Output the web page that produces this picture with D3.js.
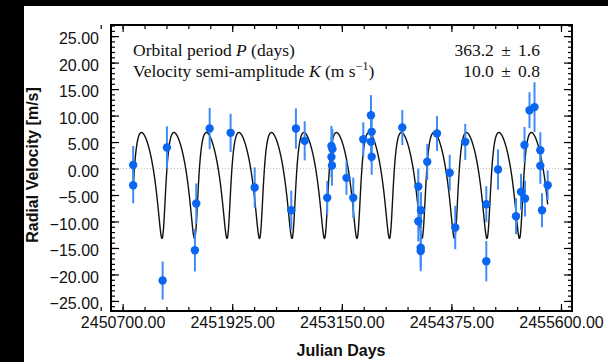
<!DOCTYPE html>
<html>
<head>
<meta charset="utf-8">
<script src="https://cdn.jsdelivr.net/npm/d3@7"></script>
<style>
  html, body { margin: 0; padding: 0; background: #000; }
  svg { display: block; }
</style>
</head>
<body>
<div id="chart"></div>
<script>
var jd = [2450818, 2450818, 2451147, 2451195, 2451508, 2451523, 2451673, 2451907,
  2452176, 2452585, 2452637, 2452735, 2452987, 2453034, 2453045, 2453034, 2453040,
  2453202, 2453278, 2453390, 2453476, 2453484, 2453476, 2453484, 2453826, 2454005,
  2454035, 2454005, 2454032, 2454032, 2454105, 2454214, 2454356, 2454418, 2454530,
  2454765, 2454765, 2454896, 2455097, 2455153, 2455198, 2455192, 2455248, 2455304,
  2455369, 2455369, 2455388, 2455451];
var rv = [0.66, -3.15, -21.15, 3.97, -15.43, -6.61, 7.55, 6.74,
  -3.59, -7.87, 7.55, 5.23, -5.53, 4.25, 3.68, 2.17, 0.57,
  -1.76, -5.53, 5.53, 10.06, 6.93, 5.04, 2.21, 7.74, -3.40,
  -7.87, -9.95, -14.97, -15.58, 1.27, 6.61, -0.81, -11.14, 5.04,
  -6.74, -17.5, -0.19, -9.0, -4.4, -5.66, 4.44, 11.0, 11.6,
  3.46, 0.51, -7.87, -3.15];
var rvErr = [3.6, 3.4, 3.6, 4.0, 4.0, 3.8, 3.9, 3.6,
  3.8, 3.7, 3.8, 3.7, 3.2, 3.8, 3.8, 3.8, 3.8,
  3.2, 3.8, 3.2, 3.8, 3.8, 3.8, 3.4, 3.3, 3.4,
  3.4, 3.8, 3.8, 3.8, 3.4, 3.3, 3.4, 4.1, 3.4,
  3.4, 3.8, 3.8, 3.4, 3.4, 3.4, 3.4, 3.4, 4.7,
  3.4, 3.4, 3.2, 2.8];

// Keplerian fit (P and K as printed; e, omega, Tp, gamma estimated from the curve)
var P = 363.2, K = 10.0, ECC = 0.35, OMEGA = 215, TP = 2451156.5, GAMMA = -0.33;
var legendRows = [["Orbital period ", "P", " (days)", null, "363.2 \u00b1 1.6"],
                  ["Velocity semi-amplitude ", "K", " (m s", "\u22121", "10.0 \u00b1 0.8"]];

var xTicks = [2450700, 2451925, 2453150, 2454375, 2455600];
var yTicks = [-25, -20, -15, -10, -5, 0, 5, 10, 15, 20, 25];

var W = 608, H = 362;
var L = 111, T = 25, R = 572, B = 311;

var svg = d3.select("#chart").append("svg").attr("width", W).attr("height", H);
svg.append("rect").attr("x", 24).attr("y", 6).attr("width", W - 24).attr("height", H - 6).attr("fill", "#fff");

var x = d3.scaleLinear().domain([2450570, 2455723]).range([L, R]);
var y = d3.scaleLinear().domain([-26.9, 27.1]).range([B, T]);

function rvModel(t) {
  var M = 2 * Math.PI * (t - TP) / P;
  var E = M;
  for (var k = 0; k < 30; k++) E = E - (E - ECC * Math.sin(E) - M) / (1 - ECC * Math.cos(E));
  var nu = 2 * Math.atan2(Math.sqrt(1 + ECC) * Math.sin(E / 2), Math.sqrt(1 - ECC) * Math.cos(E / 2));
  var w = OMEGA * Math.PI / 180;
  return K * (Math.cos(nu + w) + ECC * Math.cos(w)) + GAMMA;
}

// zero line
svg.append("line").attr("x1", L).attr("x2", R).attr("y1", y(0)).attr("y2", y(0))
  .attr("stroke", "#c4c4c4").attr("stroke-width", 1).attr("stroke-dasharray", "1,2");

// model curve
var t0 = d3.min(jd), t1 = d3.max(jd);
var curve = d3.range(t0, t1 + 0.5, 0.5).map(function (t) { return [t, rvModel(t)]; });
svg.append("path").datum(curve)
  .attr("d", d3.line().x(function (d) { return x(d[0]); }).y(function (d) { return y(d[1]); }))
  .attr("fill", "none").attr("stroke", "#111").attr("stroke-width", 1.4);

// error bars + points
var pts = jd.map(function (t, i) { return { t: t, v: rv[i], e: rvErr[i] }; });
svg.append("g").selectAll("line").data(pts).join("line")
  .attr("x1", function (d) { return x(d.t); }).attr("x2", function (d) { return x(d.t); })
  .attr("y1", function (d) { return y(d.v - d.e); }).attr("y2", function (d) { return y(d.v + d.e); })
  .attr("stroke", "#3d8df5").attr("stroke-width", 2);
svg.append("g").selectAll("circle").data(pts).join("circle")
  .attr("cx", function (d) { return x(d.t); }).attr("cy", function (d) { return y(d.v); })
  .attr("r", 4.2).attr("fill", "#0a66f0");

// axes, ticks inside the frame
var fmt = d3.format(".2f");
var font = "'Liberation Sans', Arial, Helvetica, sans-serif";
function styleAxis(g) {
  g.select(".domain").remove();
  g.selectAll(".tick line").attr("stroke", "#000").attr("stroke-width", 1.2);
  g.selectAll("text").attr("fill", "#111").style("font-family", font).style("font-size", "16px");
}
svg.append("g").attr("transform", "translate(" + L + ",0)")
  .call(d3.axisLeft(y).tickValues(yTicks).tickFormat(fmt).tickSize(-8).tickPadding(12)).call(styleAxis)
  .selectAll("text").attr("dy", "0.48em");
svg.append("g").attr("transform", "translate(" + L + ",0)")
  .call(d3.axisLeft(y).tickValues(d3.range(-26, 28, 1)).tickFormat("").tickSize(-4)).call(styleAxis);
svg.append("g").attr("transform", "translate(" + R + ",0)")
  .call(d3.axisRight(y).tickValues(yTicks).tickFormat("").tickSize(-8)).call(styleAxis);
svg.append("g").attr("transform", "translate(" + R + ",0)")
  .call(d3.axisRight(y).tickValues(d3.range(-26, 28, 1)).tickFormat("").tickSize(-4)).call(styleAxis);

var xMinor = d3.range(2450700 - 245, 2455723, 245);
svg.append("g").attr("transform", "translate(0," + B + ")")
  .call(d3.axisBottom(x).tickValues(xTicks).tickFormat(fmt).tickSize(-7).tickPadding(6)).call(styleAxis);
svg.append("g").attr("transform", "translate(0," + B + ")")
  .call(d3.axisBottom(x).tickValues(xMinor).tickFormat("").tickSize(-4)).call(styleAxis);
svg.append("g").attr("transform", "translate(0," + T + ")")
  .call(d3.axisTop(x).tickValues(xTicks).tickFormat("").tickSize(-7)).call(styleAxis);
svg.append("g").attr("transform", "translate(0," + T + ")")
  .call(d3.axisTop(x).tickValues(xMinor).tickFormat("").tickSize(-4)).call(styleAxis);

// frame
svg.append("rect").attr("x", L).attr("y", T).attr("width", R - L).attr("height", B - T)
  .attr("fill", "none").attr("stroke", "#000").attr("stroke-width", 2);

// axis titles
svg.append("text").attr("x", 341).attr("y", 356).attr("text-anchor", "middle")
  .style("font-family", font).style("font-size", "16px").style("font-weight", "bold").attr("fill", "#111")
  .text("Julian Days");
svg.append("text").attr("transform", "translate(38,165) rotate(-90)").attr("text-anchor", "middle")
  .style("font-family", font).style("font-size", "16px").style("font-weight", "bold").attr("fill", "#111")
  .text("Radial Velocity [m/s]");

// fit summary
var serif = "'Liberation Serif', 'Times New Roman', serif";
legendRows.forEach(function (r, i) {
  var by = 56 + i * 21;
  var t = svg.append("text").attr("x", 133).attr("y", by)
    .style("font-family", serif).style("font-size", "17.5px").attr("fill", "#111");
  t.append("tspan").text(r[0]);
  t.append("tspan").style("font-style", "italic").text(r[1]);
  t.append("tspan").text(r[2]);
  if (r[3]) {
    t.append("tspan").attr("dy", -7).style("font-size", "12px").text(r[3]);
    t.append("tspan").attr("dy", 7).text(")");
  }
  svg.append("text").attr("x", 540).attr("y", by).attr("text-anchor", "end")
    .style("font-family", serif).style("font-size", "17.5px").style("word-spacing", "3px")
    .attr("fill", "#111").text(r[4]);
});
</script>
</body>
</html>
